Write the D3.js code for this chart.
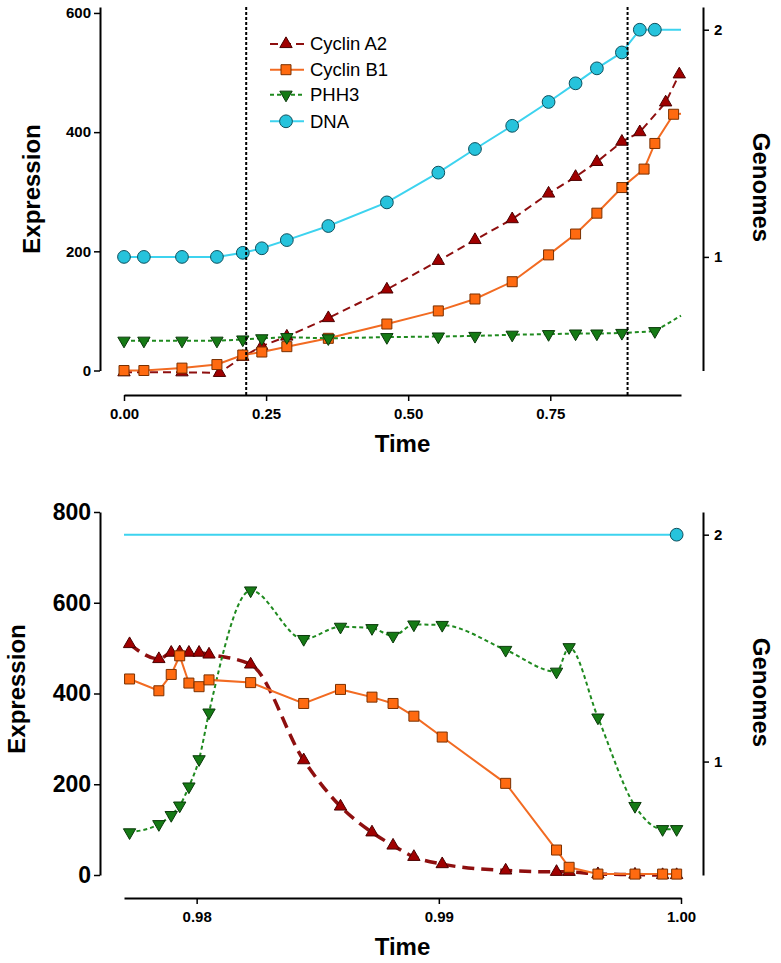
<!DOCTYPE html>
<html><head><meta charset="utf-8">
<script src="https://cdn.jsdelivr.net/npm/d3@7"></script>
<style>
body{margin:0;background:#fff}
svg{display:block}
text{font-family:"Liberation Sans",Arial,Helvetica,sans-serif}
</style>
</head><body>
<svg id="chart" width="781" height="963"></svg>
<script>
// ---------------- DATA ----------------
const seriesNames = ["Cyclin A2", "Cyclin B1", "PHH3", "DNA"];

// top panel
const topDnaTime = [0,0.035,0.102,0.1635,0.209,0.2425,0.2865,0.3595,0.4625,0.553,0.6175,0.683,0.747,0.7945,0.832,0.876,0.9075,0.934,0.98];
const topDnaGenomes = [1,1,1,1,1.018,1.038,1.074,1.136,1.24,1.371,1.475,1.577,1.682,1.764,1.83,1.9,2,2,2];
const topA2Time = [0,0.102,0.168,0.209,0.2425,0.2865,0.3595,0.4625,0.553,0.6175,0.683,0.747,0.7945,0.832,0.876,0.9075,0.953,0.977];
const topA2 = [-3,-3,-4,23,41,57,88,136,184,219,254,297,325,350,384,400,450,497];
const topB1Time = [0,0.035,0.102,0.1635,0.209,0.2425,0.2865,0.3595,0.4625,0.553,0.6175,0.683,0.747,0.7945,0.832,0.876,0.915,0.934,0.967,0.98];
const topB1 = [0,0,4,10,26,31,40,54,78,100,120,149,194,229,264,307,338,381,430,431];
const topPhh3Time = [0,0.035,0.102,0.1635,0.209,0.2425,0.2865,0.3595,0.4625,0.553,0.6175,0.683,0.747,0.7945,0.832,0.876,0.934,0.98];
const topPhh3 = [50,50,50,50,52,54,56,54,56,57,58,60,61,62,62,63,66,92];
const topMarkers = [0.215, 0.886]; // vertical dashed lines (time)

// bottom panel
const botTime = [0.97723,0.97844,0.97895,0.9793,0.97968,0.9801,0.98051,0.98223,0.98442,0.98594,0.98724,0.98811,0.98897,0.99014,0.99276,0.99486,0.99538,0.99657,0.9981,0.99924,0.99982];
const botA2 = [509,476,490,491,490,490,486,464,253,151,94,65,40,24,10,7,7,2,1,0,0];
const botB1 = [432,406,442,483,423,415,430,424,378,409,392,378,350,304,202,55,17,2,2,2,2];
const botPhh3 = [94,112,132,153,195,255,358,627,520,547,544,527,552,551,496,448,502,347,152,101,101];
const botDnaTime = [0.977, 0.99982];
const botDnaGenomes = [2, 2];

// ticks
const topYTicks = [0,200,400,600];
const topXTicks = [0,0.25,0.5,0.75];
const botYTicks = [0,200,400,600,800];
const botXTicks = [0.98,0.99,1.0];
const genomeTicks = [1,2];

// ---------------- STYLE ----------------
const styles = {
  "Cyclin A2": {line:"#8e0f0f", fill:"#a00000", stroke:"#4a0000", dash:"8,5", shape:"up"},
  "Cyclin B1": {line:"#f26b22", fill:"#ff6a10", stroke:"#7a3000", dash:null, shape:"square"},
  "PHH3":      {line:"#1f8a1f", fill:"#157a15", stroke:"#0a3a0a", dash:"4,3", shape:"down"},
  "DNA":       {line:"#3dd3ef", fill:"#26c3dc", stroke:"#0f4f5c", dash:null, shape:"circle"}
};

const svg = d3.select("#chart");
const FONT = '"Liberation Sans",Arial,Helvetica,sans-serif';

function symbolPath(shape){
  if(shape==="circle") return d3.symbol(d3.symbolCircle, 128)();
  if(shape==="square") return d3.symbol(d3.symbolSquare, 100)();
  return d3.symbol(d3.symbolTriangle, 66)();
}
function drawMarker(g, x, y, name){
  const s = styles[name];
  g.append("path").attr("d", symbolPath(s.shape))
    .attr("transform", `translate(${x},${y})` + (s.shape==="down" ? " rotate(180)" : ""))
    .attr("fill", s.fill).attr("stroke", s.stroke).attr("stroke-width", 1);
}

function panel(cfg){
  const g = svg.append("g");
  const x = d3.scaleLinear().domain(cfg.xDomain).range([124, 681]);
  const yL = d3.scaleLinear().domain(cfg.yDomain).range([cfg.yBottom, cfg.yTop]);
  const yR = d3.scaleLinear().domain([0.5, 2.1]).range([cfg.yBottom, cfg.yTop]);

  // axes
  const ax = g.append("g").attr("transform", `translate(100,0)`)
    .call(d3.axisLeft(yL).tickValues(cfg.yTicks).tickSize(6).tickSizeOuter(0).tickPadding(3).tickFormat(d3.format("d")));
  ax.selectAll("text").attr("font-size", cfg.yTickSize).attr("font-weight","bold").attr("font-family",FONT).attr("fill","#000");
  const ar = g.append("g").attr("transform", `translate(703,0)`)
    .call(d3.axisRight(yR).tickValues(genomeTicks).tickSize(6).tickSizeOuter(0).tickPadding(5).tickFormat(d3.format("d")));
  ar.selectAll("text").attr("font-size", 15).attr("font-weight","bold").attr("font-family",FONT).attr("fill","#000");
  const axb = g.append("g").attr("transform", `translate(0,${cfg.xAxisY})`)
    .call(d3.axisBottom(x).tickValues(cfg.xTicks).tickSize(6).tickSizeOuter(0).tickPadding(7).tickFormat(d3.format(".2f")));
  axb.selectAll("text").attr("font-size", 15).attr("font-weight","bold").attr("font-family",FONT).attr("fill","#000");
  [ax, ar, axb].forEach(a => {
    a.select(".domain").attr("stroke","#000").attr("stroke-width",2);
    a.selectAll(".tick line").attr("stroke","#000").attr("stroke-width",1.5);
  });

  // series
  cfg.series.forEach(sr => {
    const s = styles[sr.name];
    const yS = sr.right ? yR : yL;
    const pts = sr.t.map((t,i) => [x(t), yS(sr.v[i])]);
    const line = d3.line().curve(sr.curve || d3.curveLinear);
    g.append("path").attr("d", line(pts)).attr("fill","none")
      .attr("stroke", s.line).attr("stroke-width", sr.width || 2)
      .attr("stroke-dasharray", sr.dash !== undefined ? sr.dash : s.dash);
    pts.forEach((p,i) => { if(!(sr.noMarker||[]).includes(i)) drawMarker(g, p[0], p[1], sr.name); });
  });

  // vertical reference lines
  (cfg.vlines||[]).forEach(t => {
    g.append("line").attr("x1", x(t)).attr("x2", x(t)).attr("y1", cfg.yTop).attr("y2", cfg.xAxisY)
      .attr("stroke","#000").attr("stroke-width",2).attr("stroke-dasharray","3,2");
  });

  // titles
  g.append("text").attr("transform", `translate(${cfg.leftTitleX},${cfg.leftTitleY}) rotate(-90)`)
    .attr("text-anchor","middle").attr("font-size",24).attr("font-weight","bold").text("Expression");
  g.append("text").attr("transform", `translate(753,${cfg.rightTitleY}) rotate(90)`)
    .attr("text-anchor","middle").attr("font-size",24).attr("font-weight","bold").text("Genomes");
  g.append("text").attr("x", 402.5).attr("y", cfg.timeY)
    .attr("text-anchor","middle").attr("font-size",24).attr("font-weight","bold").text("Time");
  return g;
}

panel({
  xDomain:[0,0.98], yDomain:[0,610], yBottom:370.5, yTop:7, xAxisY:395,
  yTicks: topYTicks, xTicks: topXTicks, yTickSize:15,
  leftTitleX:40, leftTitleY:189, rightTitleY:187.5, timeY:452,
  vlines: topMarkers,
  series:[
    {name:"Cyclin A2", t:topA2Time, v:topA2},
    {name:"Cyclin B1", t:topB1Time, v:topB1, noMarker:[topB1.length-1]},
    {name:"PHH3", t:topPhh3Time, v:topPhh3, noMarker:[topPhh3.length-1]},
    {name:"DNA", t:topDnaTime, v:topDnaGenomes, right:true, noMarker:[topDnaGenomes.length-1]}
  ]
});

panel({
  xDomain:[0.977,1.0], yDomain:[0,800], yBottom:875, yTop:512, xAxisY:898,
  yTicks: botYTicks, xTicks: botXTicks, yTickSize:23,
  leftTitleX:25, leftTitleY:689, rightTitleY:692.5, timeY:955,
  series:[
    {name:"DNA", t:botDnaTime, v:botDnaGenomes, right:true, noMarker:[0]},
    {name:"Cyclin A2", t:botTime, v:botA2, width:3.5, dash:"12,7", curve:d3.curveMonotoneX},
    {name:"PHH3", t:botTime, v:botPhh3, curve:d3.curveMonotoneX},
    {name:"Cyclin B1", t:botTime, v:botB1}
  ]
});

// legend
const legendRowsY = [44, 69.7, 94.7, 121.3];
const lg = svg.append("g");
seriesNames.forEach((n,i) => {
  const s = styles[n], y = legendRowsY[i];
  lg.append("line").attr("x1",270).attr("x2",304).attr("y1",y).attr("y2",y)
    .attr("stroke", s.line).attr("stroke-width",2).attr("stroke-dasharray", s.dash);
  drawMarker(lg, 286, y, n);
  lg.append("text").attr("x",310).attr("y",y).attr("dy","0.35em")
    .attr("font-size",18.5).attr("fill","#000").text(n);
});
</script>
</body></html>
